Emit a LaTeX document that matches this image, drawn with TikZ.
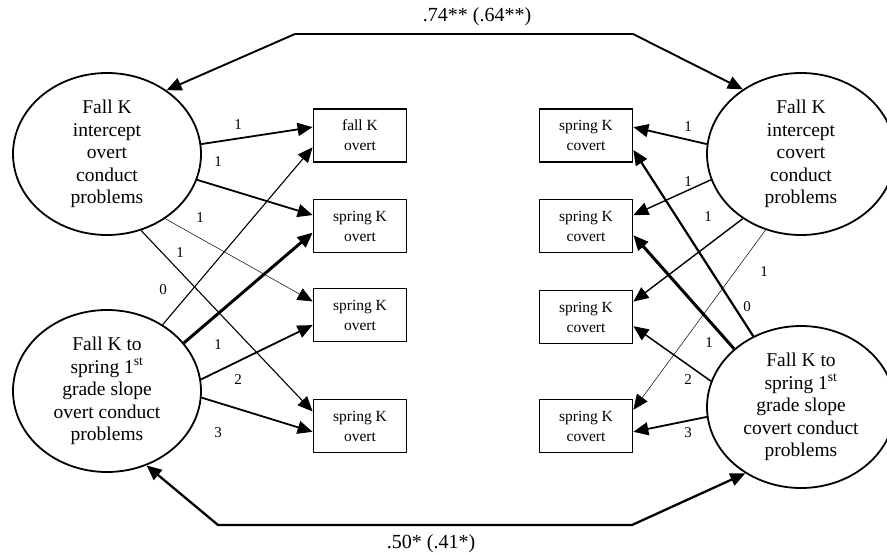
\documentclass[tikz,border=0pt]{standalone}
\usepackage{fontspec}
\setmainfont{Liberation Serif}
\usetikzlibrary{arrows.meta,shapes.geometric}

\tikzset{
  latent/.style={ellipse,draw,line width=1.8pt,minimum width=188pt,minimum height=162pt,
    inner sep=0pt,align=center,font=\fontsize{19.5}{22.5}\selectfont},
  manifest/.style={rectangle,draw,line width=1.8pt,minimum width=93pt,minimum height=53pt,
    inner sep=0pt,align=center,font=\fontsize{15.5}{20}\selectfont},
  load/.style={-{Triangle[length=15pt,width=13pt]},line width=1.8pt},
  cov/.style={{Triangle[length=15pt,width=13pt]}-{Triangle[length=15pt,width=13pt]},line width=1.9pt},
  wt/.style={inner sep=0pt,font=\fontsize{15}{16}\selectfont},
  covlabel/.style={inner sep=0pt,font=\fontsize{20}{22}\selectfont}
}

\begin{document}
\begin{tikzpicture}[x=1pt,y=-1pt]
\useasboundingbox (0,0) rectangle (887,554);
\begin{scope}
% latent growth factors
\node[latent] (fko) at (107,154) {Fall K\\intercept\\overt\\conduct\\problems};
\node[latent] (slo) at (107,391) {Fall K to\\spring 1\textsuperscript{st}\\grade slope\\overt conduct\\problems};
\node[latent] (fkc) at (801,154) {Fall K\\intercept\\covert\\conduct\\problems};
\node[latent] (slc) at (801,407) {Fall K to\\spring 1\textsuperscript{st}\\grade slope\\covert conduct\\problems};

% observed scores
\node[manifest] (o1) at (360,135.5) {fall K\\overt};
\node[manifest] (o2) at (360,226) {spring K\\overt};
\node[manifest] (o3) at (360,315) {spring K\\overt};
\node[manifest] (o4) at (360,426) {spring K\\overt};
\node[manifest] (c1) at (586,135.5) {spring K\\covert};
\node[manifest] (c2) at (586,226) {spring K\\covert};
\node[manifest] (c3) at (586,317) {spring K\\covert};
\node[manifest] (c4) at (586,426) {spring K\\covert};
\end{scope}

% overt loadings
\draw[load] (fko.6) -- (o1.170);
\draw[load] (fko.-16) -- (o2.167);
\draw[load,line width=0.5pt] (fko.-48) -- (o3.164);
\draw[load,line width=1.1pt] (fko.-66) -- (o4.163);
\draw[load,line width=1.1pt] (slo.50) -- (o1.194);
\draw[load,line width=3pt] (slo.32) -- (o2.188);
\draw[load] (slo.7) -- (o3.192);
\draw[load] (slo.-4) -- (o4.187);

% covert loadings
\draw[load] (fkc.174) -- (c1.10);
\draw[load,line width=1.4pt] (fkc.196) -- (c2.13);
\draw[load,line width=1.4pt] (fkc.228) -- (c3.18);
\draw[load,line width=0.5pt] (fkc.245) -- (c4.19);
\draw[load,line width=2.2pt] (slc.124) -- (c1.-17);
\draw[load,line width=3pt] (slc.139) -- (c2.-11);
\draw[load,line width=1.5pt] (slc.164) -- (c3.-11);
\draw[load] (slc.186) -- (c4.-7);

\node[wt] (w1) at (238,125) {1};
\node[wt] (w2) at (218,162) {1};
\node[wt] (w3) at (200,218) {1};
\node[wt] (w4) at (180,253) {1};
\node[wt] (w5) at (163,290) {0};
\node[wt] (w6) at (218,345) {1};
\node[wt] (w7) at (238,380) {2};
\node[wt] (w8) at (218,433) {3};
\node[wt] (v1) at (688,127) {1};
\node[wt] (v2) at (688,182) {1};
\node[wt] (v3) at (708,217) {1};
\node[wt] (v4) at (764,272) {1};
\node[wt] (v5) at (747,307) {0};
\node[wt] (v6) at (709,343) {1};
\node[wt] (v7) at (688,380) {2};
\node[wt] (v8) at (688,433) {3};

% factor covariances
\coordinate (ta) at (295,34);
\coordinate (tb) at (633,34);
\coordinate (ba) at (218,525);
\coordinate (bb) at (632,525);
\draw[cov] (fko.47) -- (ta) -- (tb) -- (fkc.132);
\draw[cov,line width=2.3pt] (slo.-62) -- (ba) -- (bb) -- (slc.-130);
\node[covlabel] (r1) at (477,17) {.74** (.64**)};
\node[covlabel] (r2) at (431,544) {.50* (.41*)};
\end{tikzpicture}
\end{document}
